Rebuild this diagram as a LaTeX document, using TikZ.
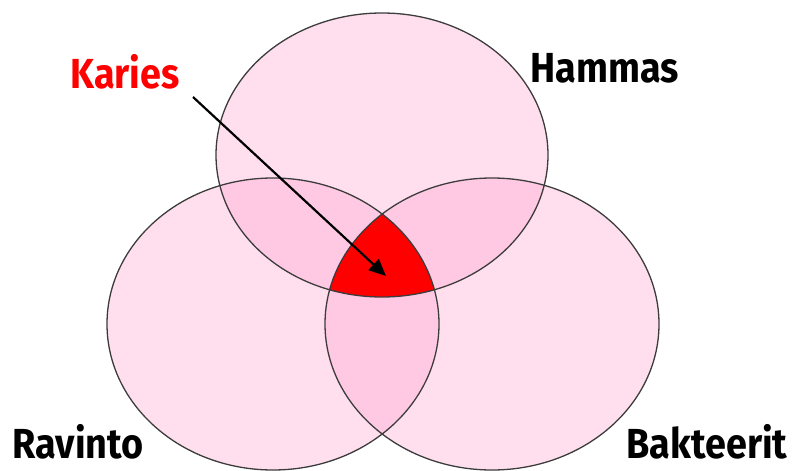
\documentclass[tikz,border=0pt]{standalone}
\usepackage{fontspec}
\setmainfont{Fira Sans}
\usetikzlibrary{arrows.meta}
\definecolor{vennpink}{RGB}{255,150,200}
\definecolor{vennline}{RGB}{60,60,60}
\tikzset{
  setfill/.style={fill=vennpink, fill opacity=0.3},
  setline/.style={draw=vennline, line width=1.3pt},
  setlabel/.style={font=\fontsize{42}{42}\selectfont\bfseries, text=black, inner sep=0pt},
  pointer/.style={-{Triangle[length=17pt,width=15pt]}, line width=2.2pt, black}
}
\begin{document}
\begin{tikzpicture}[x=1pt,y=-1pt]
\useasboundingbox (0,0) rectangle (793,471);
% fills
\fill[setfill] (382,155) ellipse [x radius=166, y radius=142];
\fill[setfill] (273,324) ellipse [x radius=166, y radius=146];
\fill[setfill] (492,324) ellipse [x radius=167, y radius=146];
% triple intersection
\begin{scope}
  \clip (382,155) ellipse [x radius=166, y radius=142];
  \clip (273,324) ellipse [x radius=166, y radius=146];
  \fill[red] (492,324) ellipse [x radius=167, y radius=146];
\end{scope}
% outlines
\draw[setline] (382,155) ellipse [x radius=166, y radius=142];
\draw[setline] (273,324) ellipse [x radius=166, y radius=146];
\draw[setline] (492,324) ellipse [x radius=167, y radius=146];
% labels
\node[setlabel, text=red] (karies) at (125,72) {\scalebox{0.9}[1]{Karies}};
\node[setlabel] (hammas) at (605,68) {\scalebox{0.9}[1]{Hammas}};
\node[setlabel] (ravinto) at (78,442) {\scalebox{0.9}[1]{Ravinto}};
\node[setlabel] (bakteerit) at (707,442) {\scalebox{0.9}[1]{Bakteerit}};
% arrow
\coordinate (arrowstart) at (193,97);
\coordinate (arrowend) at (386,276);
\draw[pointer] (arrowstart) -- (arrowend);
\end{tikzpicture}
\end{document}
